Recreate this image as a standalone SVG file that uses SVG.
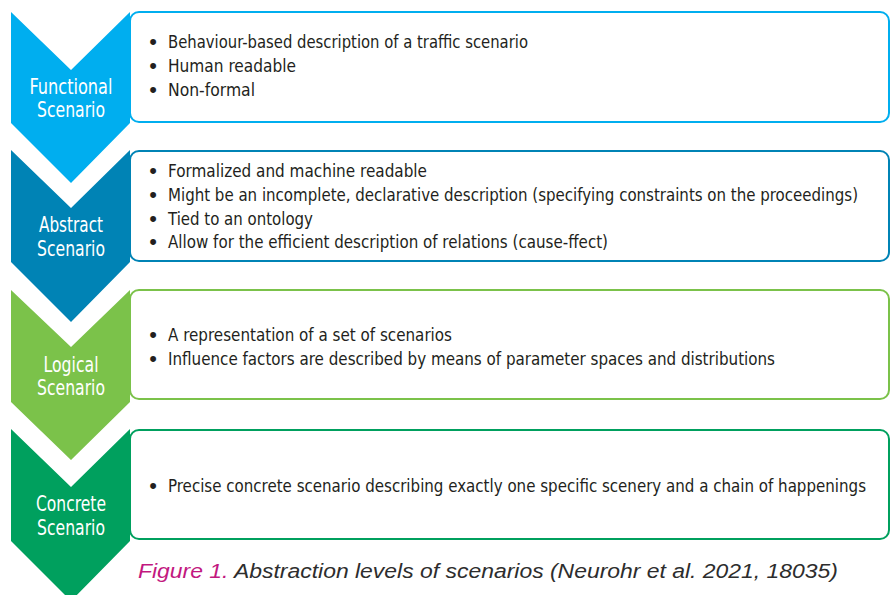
<svg xmlns="http://www.w3.org/2000/svg" width="891" height="595" viewBox="0 0 891 595">
<style>
.lbl{font-family:"DejaVu Sans Condensed","Liberation Sans Narrow","Liberation Sans",sans-serif;font-size:20.5px;fill:#ffffff;text-anchor:middle}
.txt{font-family:"DejaVu Sans Condensed","Liberation Sans Narrow","Liberation Sans",sans-serif;font-size:18.5px;fill:#231f20}
.long{font-size:17px}
.bul{font-family:"Liberation Sans",sans-serif;font-size:22px;fill:#231f20;text-anchor:middle}
.box{fill:#ffffff;stroke-width:2}
.cap{font-family:"Liberation Sans",sans-serif;font-style:italic;font-size:20px;fill:#2d2d2d}
</style>
<rect width="891" height="595" fill="#ffffff"/>
<g id="functional">
<rect class="box" x="130" y="12" width="759" height="110" rx="9" stroke="#00aeef"/>
<polygon points="11,12 71,70 130,12 130,123 71,183 11,123" fill="#00aeef"/>
<text class="lbl" x="71" y="94" textLength="83" lengthAdjust="spacingAndGlyphs">Functional</text>
<text class="lbl" x="71" y="117" textLength="68" lengthAdjust="spacingAndGlyphs">Scenario</text>
<text class="bul" x="153" y="49">•</text><text class="txt" x="168" y="48" textLength="360" lengthAdjust="spacingAndGlyphs">Behaviour-based description of a traffic scenario</text>
<text class="bul" x="153" y="73">•</text><text class="txt" x="168" y="72" textLength="128" lengthAdjust="spacingAndGlyphs">Human readable</text>
<text class="bul" x="153" y="97">•</text><text class="txt" x="168" y="96" textLength="87" lengthAdjust="spacingAndGlyphs">Non-formal</text>
</g>
<g id="abstract">
<rect class="box" x="130" y="151" width="759" height="110" rx="9" stroke="#0083b5"/>
<polygon points="11,150 71,208 130,150 130,262 71,322 11,262" fill="#0083b5"/>
<text class="lbl" x="71" y="232" textLength="64" lengthAdjust="spacingAndGlyphs">Abstract</text>
<text class="lbl" x="71" y="256" textLength="68" lengthAdjust="spacingAndGlyphs">Scenario</text>
<text class="bul" x="153" y="178">•</text><text class="txt" x="168" y="177" textLength="259" lengthAdjust="spacingAndGlyphs">Formalized and machine readable</text>
<text class="bul" x="153" y="202">•</text><text class="txt long" x="168" y="201" textLength="690" lengthAdjust="spacingAndGlyphs">Might be an incomplete, declarative description (specifying constraints on the proceedings)</text>
<text class="bul" x="153" y="226">•</text><text class="txt" x="168" y="225" textLength="145" lengthAdjust="spacingAndGlyphs">Tied to an ontology</text>
<text class="bul" x="153" y="249">•</text><text class="txt" x="168" y="248" textLength="440" lengthAdjust="spacingAndGlyphs">Allow for the efficient description of relations (cause-ffect)</text>
</g>
<g id="logical">
<rect class="box" x="130" y="290" width="759" height="109" rx="9" stroke="#7bc24a"/>
<polygon points="11,290 71,347 130,290 130,402 71,460 11,402" fill="#7bc24a"/>
<text class="lbl" x="71" y="372" textLength="55" lengthAdjust="spacingAndGlyphs">Logical</text>
<text class="lbl" x="71" y="395" textLength="68" lengthAdjust="spacingAndGlyphs">Scenario</text>
<text class="bul" x="153" y="342">•</text><text class="txt" x="168" y="341" textLength="284" lengthAdjust="spacingAndGlyphs">A representation of a set of scenarios</text>
<text class="bul" x="153" y="366">•</text><text class="txt" x="168" y="365" textLength="607" lengthAdjust="spacingAndGlyphs">Influence factors are described by means of parameter spaces and distributions</text>
</g>
<g id="concrete">
<rect class="box" x="130" y="430" width="759" height="109" rx="9" stroke="#00a05e"/>
<polygon points="11,429 71,487 130,429 130,541 71,601 11,541" fill="#00a05e"/>
<text class="lbl" x="71" y="511" textLength="70" lengthAdjust="spacingAndGlyphs">Concrete</text>
<text class="lbl" x="71" y="535" textLength="68" lengthAdjust="spacingAndGlyphs">Scenario</text>
<text class="bul" x="153" y="493">•</text><text class="txt long" x="168" y="492" textLength="698" lengthAdjust="spacingAndGlyphs">Precise concrete scenario describing exactly one specific scenery and a chain of happenings</text>
</g>
<g id="connectors"></g>
<text id="caption" class="cap" x="138" y="578" textLength="700" lengthAdjust="spacingAndGlyphs"><tspan fill="#c2187f">Figure 1.</tspan> Abstraction levels of scenarios (Neurohr et al. 2021, 18035)</text>
</svg>
